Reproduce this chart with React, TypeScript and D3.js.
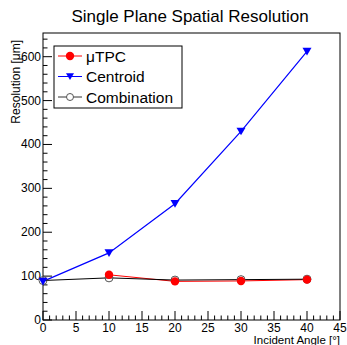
import React from 'react';
import * as d3 from 'd3';

const utpcAngle = [10, 20, 30, 40];
const utpcRes = [103, 88, 89, 92];
const centroidAngle = [0, 10, 20, 30, 40];
const centroidRes = [88, 153, 265, 430, 612];
const combAngle = [0, 10, 20, 30, 40];
const combRes = [90, 96, 91, 92, 93];
const xTicks = [0, 5, 10, 15, 20, 25, 30, 35, 40, 45];
const yTicks = [0, 100, 200, 300, 400, 500, 600];

const W = 347;
const H = 345;
const m = { left: 43, right: 7, top: 33, bottom: 25 };

const App = () => {
  const x = d3.scaleLinear().domain([0, 45]).range([m.left, W - m.right]);
  const y = d3.scaleLinear().domain([0, 654]).range([H - m.bottom, m.top]);
  const line = d3.line<[number, number]>().x(d => x(d[0])).y(d => y(d[1]));
  const font = 'Liberation Sans, Arial, sans-serif';

  const zip = (a: number[], b: number[]) => a.map((v, i) => [v, b[i]] as [number, number]);
  const utpc = zip(utpcAngle, utpcRes);
  const centroid = zip(centroidAngle, centroidRes);
  const comb = zip(combAngle, combRes);

  const xMinor = d3.range(0, 46, 1);
  const yMinor = d3.range(0, 654, 20);
  const y0 = H - m.bottom;

  const tri = (cx: number, cy: number, s = 4.5) =>
    `M${cx - s},${cy - s * 0.8}L${cx + s},${cy - s * 0.8}L${cx},${cy + s * 0.9}Z`;

  const legend = [
    { label: 'μTPC', color: 'red', kind: 'dot' },
    { label: 'Centroid', color: 'blue', kind: 'tri' },
    { label: 'Combination', color: 'black', kind: 'open' },
  ];

  return (
    <svg width={W} height={H} style={{ position: 'absolute', left: 0, top: 0 }}>
      <rect width={W} height={H} fill="white" />
      <text x={190} y={22} textAnchor="middle" fontFamily={font} fontSize={17}>
        Single Plane Spatial Resolution
      </text>
      <rect x={m.left} y={m.top} width={W - m.left - m.right} height={y0 - m.top}
        fill="none" stroke="black" strokeWidth={1} />
      {xMinor.map(t => (
        <line key={'xm' + t} x1={x(t)} x2={x(t)} y1={y0} y2={y0 - (t % 5 === 0 ? 9 : 4.5)}
          stroke="black" strokeWidth={1} />
      ))}
      {yMinor.map(t => (
        <line key={'ym' + t} x1={m.left} x2={m.left + (t % 100 === 0 ? 9 : 4.5)} y1={y(t)} y2={y(t)}
          stroke="black" strokeWidth={1} />
      ))}
      {xTicks.map(t => (
        <text key={'xt' + t} x={x(t)} y={y0 + 11.5} textAnchor="middle" fontFamily={font} fontSize={12}>{t}</text>
      ))}
      {yTicks.map(t => (
        <text key={'yt' + t} x={m.left - 2} y={y(t) + 4} textAnchor="end" fontFamily={font} fontSize={12}>{t}</text>
      ))}
      <text x={W - m.right} y={H - 1.5} textAnchor="end" fontFamily={font} fontSize={11.5}>Incident Angle [°]</text>
      <text transform={`translate(20,40) rotate(-90)`} textAnchor="end" fontFamily={font} fontSize={12}>
        Resolution [μm]
      </text>

      <path d={line(utpc) || ''} fill="none" stroke="red" strokeWidth={1} />
      <path d={line(centroid) || ''} fill="none" stroke="blue" strokeWidth={1.2} />
      <path d={line(comb) || ''} fill="none" stroke="black" strokeWidth={1} />
      {comb.map((d, i) => (
        <circle key={'c' + i} cx={x(d[0])} cy={y(d[1])} r={4} fill="none" stroke="#555" strokeWidth={1} />
      ))}
      {utpc.map((d, i) => (
        <circle key={'u' + i} cx={x(d[0])} cy={y(d[1])} r={4.2} fill="red" />
      ))}
      {centroid.map((d, i) => (
        <path key={'t' + i} d={tri(x(d[0]), y(d[1]))} fill="blue" />
      ))}

      <rect x={54} y={46} width={128} height={62} fill="white" stroke="black" strokeWidth={1} />
      {legend.map((e, i) => {
        const ly = 56 + i * 20.5;
        return (
          <g key={e.label}>
            <line x1={58} x2={82} y1={ly} y2={ly} stroke={e.kind === 'open' ? '#333' : e.color} strokeWidth={1} />
            {e.kind === 'dot' && <circle cx={70} cy={ly} r={4.2} fill="red" />}
            {e.kind === 'tri' && <path d={tri(70, ly, 4)} fill="blue" />}
            {e.kind === 'open' && <circle cx={70} cy={ly} r={3.5} fill="white" stroke="#555" />}
            <text x={86} y={ly + 5.5} fontFamily={font} fontSize={15.5}>{e.label}</text>
          </g>
        );
      })}
    </svg>
  );
};

export default App;
